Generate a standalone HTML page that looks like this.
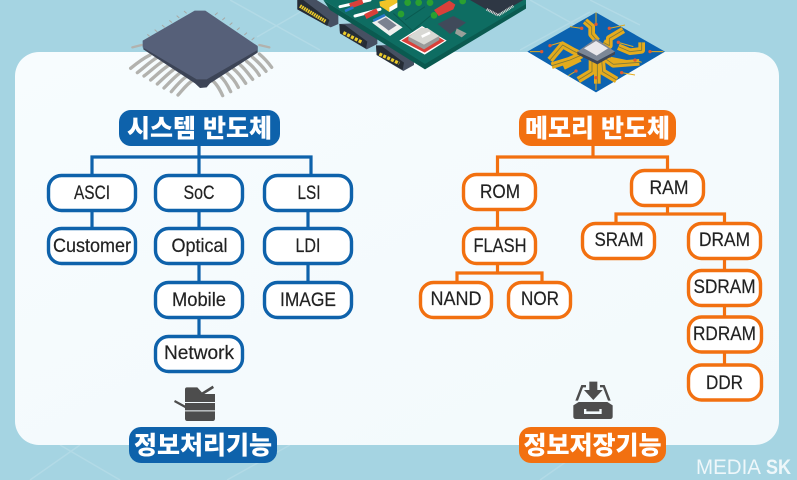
<!DOCTYPE html>
<html lang="ko"><head><meta charset="utf-8"><title>시스템 반도체 / 메모리 반도체</title>
<style>
html,body{margin:0;padding:0;background:#a5d4e2}
svg{display:block}
.l{font:19px "Liberation Sans",sans-serif;fill:#222;text-anchor:middle;stroke:#222;stroke-width:.2}
.k{font:900 25px "Liberation Sans","Noto Sans CJK KR",sans-serif;fill:#fff;text-anchor:middle}
.b rect{fill:#fff;stroke:#0e62ab;stroke-width:3.4}
.o rect{fill:#fff;stroke:#f27010;stroke-width:3.4}
.cb{fill:none;stroke:#0e62ab;stroke-width:3.2}
.co{fill:none;stroke:#f27010;stroke-width:3.2}
</style></head><body>
<svg width="797" height="480" viewBox="0 0 797 480" xmlns="http://www.w3.org/2000/svg">
<defs>
<linearGradient id="pg" x1="0" y1="0" x2="1" y2="1"><stop offset="0" stop-color="#f7fcfe"/><stop offset="1" stop-color="#f2f9fc"/></linearGradient>
</defs>
<rect width="797" height="480" fill="#a5d4e2"/>
<!-- background lines -->
<g stroke="#fff" stroke-opacity=".15" stroke-width="1.5" fill="none">
<path d="M230 0L320 50M257 37L307 8M530 0L620 50M520 50L590 12M590 0L640 25"/>
<path d="M227 480L290 445M30 480L80 445M60 445L120 480M540 480L590 445"/>
</g>
<!-- panel -->
<rect x="15" y="52" width="764" height="393" rx="24" fill="url(#pg)"/>

<!-- chip -->
<g transform="translate(100,0) scale(.33333)">
<g stroke="#b2b2ae" stroke-width="10" fill="none" stroke-linecap="round">
<path d="M150 165C130 175 110 190 92 205M172 172C150 185 130 205 112 218M190 183C170 195 150 215 132 228M208 195C190 205 170 225 152 240M226 205C208 217 190 235 172 252M244 216C226 228 208 248 192 264M262 228C245 238 228 258 214 275M280 240C262 250 248 270 234 285"/>
<path d="M335 240C350 250 360 270 368 287M360 228C375 240 385 260 392 275M380 218C395 230 408 248 415 262M400 206C415 218 428 236 437 250M420 194C435 206 448 225 458 238M440 184C455 196 470 212 478 226M458 172C472 184 488 200 498 214M478 162C490 172 505 188 515 202"/>
<path d="M125 135L97 142M478 135L508 142" stroke-width="7"/>
</g>
<path d="M130 125L130 148L285 250L300 264L320 262L330 250L473 158L473 140L300 200Z" fill="#3c4456"/>
<path d="M284 32L316 32L473 138L473 150L320 238L290 238L128 142L128 122Z" fill="#566079"/>
<g stroke="#a8a8a4" stroke-width="3"><path d="M150 110L142 103M172 96L164 89M194 82L186 75M216 68L208 61M238 54L230 47M260 40L252 33M345 45L353 38M367 60L375 53M389 75L397 68M411 90L419 83M433 105L441 98M455 120L463 113"/></g>
</g>

<!-- PCB -->
<g transform="translate(290,0) scale(.33333)">
<path d="M22 0L22 28L122 82L145 72L145 40L80 0Z" fill="#465062"/>
<path d="M22 0L22 28L112 78L118 60L40 0Z" fill="#252c36"/>
<path d="M30 18L108 65" stroke="#eccb2a" stroke-width="11" stroke-dasharray="5 2"/>
<path d="M148 72L150 100L230 148L262 132L262 100L190 70Z" fill="#465062"/>
<path d="M148 72L150 100L228 146L232 125L165 75Z" fill="#252c36"/>
<path d="M160 98L218 128" stroke="#eccb2a" stroke-width="10" stroke-dasharray="9 4"/>
<path d="M258 136L260 165L340 213L372 195L372 170L300 135Z" fill="#465062"/>
<path d="M258 136L260 165L338 210L342 188L275 138Z" fill="#252c36"/>
<path d="M268 162L328 190" stroke="#eccb2a" stroke-width="10" stroke-dasharray="9 4"/>
<path d="M100 0L405 190L708 10L708 26L405 208L120 30Z" fill="#0a5a50"/>
<path d="M100 0L405 192L708 12L708 0Z" fill="#0e6d62"/>
<path d="M345 60L405 20M370 90L430 40M310 40L370 95" stroke="#0a5a50" stroke-width="3"/>
<path d="M328 122L396 78L470 122L404 164Z" fill="#fff"/>
<path d="M334 122L396 83L464 122L404 158Z" fill="#d9403a"/>
<path d="M355 110L355 122L402 148L448 120L448 108L402 130Z" fill="#9a9a9a"/>
<path d="M355 110L392 84L412 84L448 108L402 134Z" fill="#d8d8d4"/>
<path d="M395 110L420 98" stroke="#fff" stroke-width="8"/>
<path d="M246 68L285 46L338 82L300 108Z" fill="#f0f0ee"/>
<path d="M262 66L288 52L320 76L296 92Z" fill="#7a8290"/>
<path d="M443 72L490 48L528 68L480 102Z" fill="#404a5a"/>
<path d="M500 85L530 100L515 112L495 100Z" fill="#9aa09a"/>
<path d="M540 0L620 46L700 0Z" fill="#2e3744"/>
<path d="M590 28L625 46L670 18" stroke="#ddd" stroke-width="8" fill="none" stroke-dasharray="3 2"/>
<path d="M268 5L290 0L322 0L322 22L298 36L270 18Z" fill="#f0c428"/>
<path d="M298 36L322 22L322 8L298 22Z" fill="#fff"/>
<path d="M432 30L478 2L496 14L490 28L446 48Z" fill="#d9403a"/>
<path d="M150 20L240 0M195 48L270 28" stroke="#fff" stroke-width="9" stroke-linecap="round"/>
<path d="M180 18L218 4M226 50L262 32" stroke="#d9403a" stroke-width="16"/>
<path d="M165 33L190 22M250 62L285 45" stroke="#2878c8" stroke-width="8"/>
<g fill="#2aa030"><circle cx="353" cy="8" r="10"/><circle cx="386" cy="8" r="10"/><circle cx="420" cy="8" r="10"/><circle cx="333" cy="42" r="10"/><circle cx="432" cy="46" r="10"/><circle cx="518" cy="3" r="10"/></g>
</g>

<!-- circuit diamond -->
<g transform="translate(520,5) scale(.33333)">
<path d="M228 22L435 140L228 262L22 140Z" fill="#0c63b0"/>
<g fill="none" stroke="#e4ab1d" stroke-width="20" stroke-linejoin="round">
<path d="M195 48L215 65L215 88L232 108"/>
<path d="M310 75L268 100L268 122L250 112"/>
<path d="M365 112L365 136L330 140L295 125"/>
<path d="M90 165L128 120L160 138L185 150"/>
<path d="M95 182L150 165L185 150"/>
<path d="M130 185L180 160"/>
<path d="M175 225L216 200L216 165"/>
<path d="M232 236L232 165"/>
<path d="M290 225L248 200L245 165"/>
<path d="M358 172L280 178L255 160"/>
<path d="M320 175L270 165"/>
</g>
<g fill="none" stroke="#7d7a3a" stroke-width="2.500" stroke-linejoin="round">
<path d="M195 48L215 65L215 88L232 108"/>
<path d="M310 75L268 100L268 122L250 112"/>
<path d="M365 112L365 136L330 140L295 125"/>
<path d="M90 165L128 120L160 138L185 150"/>
<path d="M95 182L150 165L185 150"/>
<path d="M175 225L216 200L216 165"/>
<path d="M232 236L232 165"/>
<path d="M290 225L248 200L245 165"/>
<path d="M358 172L280 178L255 160"/>
</g>
<g stroke="#e4ab1d" stroke-width="3">
<path d="M228 22V58M150 65L185 70M315 60L268 70M340 125L295 112M130 110L90 122M430 140H390M30 140H65M345 165L365 172M345 210L305 203M145 212L168 198M228 255V218"/>
</g>
<g fill="#e05a30"><circle cx="228" cy="58" r="5"/><circle cx="185" cy="70" r="5"/><circle cx="268" cy="70" r="5"/><circle cx="295" cy="112" r="5"/><circle cx="90" cy="122" r="5"/><circle cx="390" cy="140" r="5"/><circle cx="65" cy="140" r="5"/><circle cx="345" cy="165" r="5"/><circle cx="305" cy="203" r="5"/><circle cx="168" cy="198" r="5"/><circle cx="228" cy="218" r="5"/></g>
<path d="M228 100L285 140L232 168L172 140Z" fill="#7c8796"/>
<path d="M172 140L232 168L285 140L285 148L232 178L172 148Z" fill="#3d4656"/>
<path d="M228 108L264 130L230 152L192 130Z" fill="#e8e8ec"/>
</g>

<!-- blue tree -->
<path class="cb" d="M199 146V174M92 174V157H311V174M92 211V227M199 211V335M308 211V281"/>
<rect x="119" y="110" width="161" height="36" rx="12" fill="#0e62ab"/>
<text class="k" x="199.500" y="137">시스템 반도체</text>
<g class="b">
<rect x="48.500" y="175.500" width="87" height="35" rx="13"/>
<rect x="155.500" y="175.500" width="87" height="35" rx="13"/>
<rect x="264.500" y="175.500" width="87" height="35" rx="13"/>
<rect x="48.500" y="228.500" width="87" height="35" rx="13"/>
<rect x="155.500" y="228.500" width="87" height="35" rx="13"/>
<rect x="264.500" y="228.500" width="87" height="35" rx="13"/>
<rect x="155.500" y="282.500" width="87" height="35" rx="13"/>
<rect x="264.500" y="282.500" width="87" height="35" rx="13"/>
<rect x="155.500" y="336.500" width="87" height="35" rx="13"/>
</g>
<text class="l" x="92" y="199" textLength="36" lengthAdjust="spacingAndGlyphs">ASCI</text>
<text class="l" x="199" y="199" textLength="31" lengthAdjust="spacingAndGlyphs">SoC</text>
<text class="l" x="309" y="199" textLength="23" lengthAdjust="spacingAndGlyphs">LSI</text>
<text class="l" x="92" y="252" textLength="78" lengthAdjust="spacingAndGlyphs">Customer</text>
<text class="l" x="199.500" y="252" textLength="56" lengthAdjust="spacingAndGlyphs">Optical</text>
<text class="l" x="308" y="252" textLength="25" lengthAdjust="spacingAndGlyphs">LDI</text>
<text class="l" x="199" y="306" textLength="54" lengthAdjust="spacingAndGlyphs">Mobile</text>
<text class="l" x="308" y="306" textLength="56" lengthAdjust="spacingAndGlyphs">IMAGE</text>
<text class="l" x="199" y="359" textLength="70" lengthAdjust="spacingAndGlyphs">Network</text>

<!-- copier icon -->
<g transform="translate(110,270) scale(.33333)" fill="#4d4d4d">
<path d="M225 358Q225 352 231 352H262L280 372H315V396H225Z"/>
<path d="M268 372L308 347L312 354L280 374Z"/>
<path d="M225 399H315V421H225Z"/>
<path d="M225 424H315V446Q315 453 308 453H232Q225 453 225 446Z"/>
<path d="M195 390L228 408L228 416L192 396Z"/>
</g>
<rect x="129" y="427" width="148" height="36" rx="12" fill="#0e62ab"/>
<text class="k" x="203" y="454">정보처리기능</text>

<!-- orange tree -->
<path class="co" d="M593 146V157M497.500 174V157H667.500V170M497.500 210V227M497.500 264V273M457 281V273H542V281M667.500 206V214M616 222V214H724.500V222M724.500 259V269M724.500 306V316M724.500 352V364"/>
<rect x="519" y="110" width="157" height="36" rx="12" fill="#f27010"/>
<text class="k" x="597.500" y="137">메모리 반도체</text>
<g class="o">
<rect x="463.500" y="174.500" width="72" height="35" rx="13"/>
<rect x="631.500" y="170.500" width="72" height="35" rx="13"/>
<rect x="463.500" y="228.500" width="72" height="35" rx="13"/>
<rect x="582.500" y="223.500" width="72" height="35" rx="13"/>
<rect x="688.500" y="223.500" width="72" height="35" rx="13"/>
<rect x="688.500" y="270.500" width="72" height="35" rx="13"/>
<rect x="688.500" y="317" width="73" height="35" rx="13"/>
<rect x="688.500" y="365" width="73" height="35" rx="13"/>
<rect x="420.500" y="282.500" width="71" height="35" rx="13"/>
<rect x="508.500" y="282.500" width="62" height="35" rx="13"/>
</g>
<text class="l" x="500" y="198" textLength="40" lengthAdjust="spacingAndGlyphs">ROM</text>
<text class="l" x="669" y="194" textLength="39" lengthAdjust="spacingAndGlyphs">RAM</text>
<text class="l" x="500" y="252" textLength="53" lengthAdjust="spacingAndGlyphs">FLASH</text>
<text class="l" x="619" y="246" textLength="49" lengthAdjust="spacingAndGlyphs">SRAM</text>
<text class="l" x="724.500" y="246" textLength="51" lengthAdjust="spacingAndGlyphs">DRAM</text>
<text class="l" x="724.500" y="293" textLength="62" lengthAdjust="spacingAndGlyphs">SDRAM</text>
<text class="l" x="724.500" y="340" textLength="63" lengthAdjust="spacingAndGlyphs">RDRAM</text>
<text class="l" x="724.500" y="389" textLength="37" lengthAdjust="spacingAndGlyphs">DDR</text>
<text class="l" x="456" y="305" textLength="51" lengthAdjust="spacingAndGlyphs">NAND</text>
<text class="l" x="540" y="305" textLength="38" lengthAdjust="spacingAndGlyphs">NOR</text>

<!-- inbox icon -->
<g transform="translate(500,310) scale(.33333)" fill="#4d4d4d">
<path d="M226 272L244 225H258V232H249L234 272Z"/>
<path d="M332 272L314 225H300V232H309L324 272Z"/>
<path d="M268 215H292V240H308L280 270L252 240H268Z"/>
<path fill-rule="evenodd" d="M236 276H322L338 286V320Q338 327 330 327H228Q220 327 220 320V286ZM252 297V312H305V297H298V304H259V297Z"/>
</g>
<rect x="519" y="427" width="147" height="36" rx="12" fill="#f27010"/>
<text class="k" x="592.500" y="454">정보저장기능</text>

<!-- logo -->
<text x="696" y="474" font-family="Liberation Sans, sans-serif" font-size="21" fill="#eef7fa" textLength="65" lengthAdjust="spacingAndGlyphs">MEDIA</text>
<text x="766" y="474" font-family="Liberation Sans, sans-serif" font-size="21" font-weight="700" fill="#eef7fa" textLength="25" lengthAdjust="spacingAndGlyphs">SK</text>
</svg>
</body></html>
